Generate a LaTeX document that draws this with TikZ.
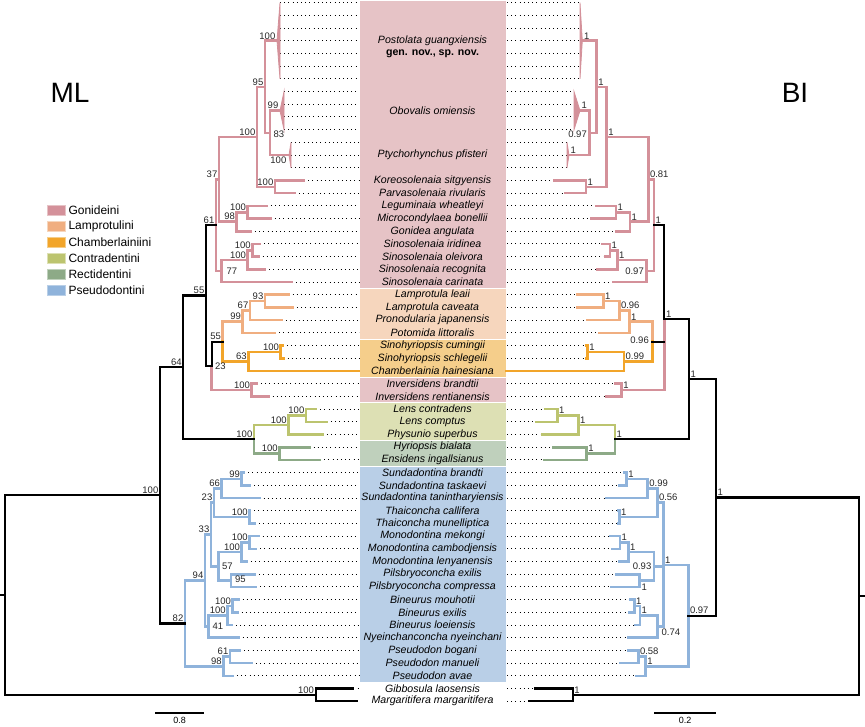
\documentclass[tikz,border=0pt]{standalone}
\usepackage{fontspec}
\setmainfont{Liberation Sans}
\usepackage{xcolor}
\usepackage{tikz}
\usetikzlibrary{positioning}
\definecolor{gonL}{HTML}{D4919A}
\definecolor{lamL}{HTML}{F0AE80}
\definecolor{chaL}{HTML}{F2A52A}
\definecolor{conL}{HTML}{BCC46F}
\definecolor{recL}{HTML}{8DAA87}
\definecolor{pseL}{HTML}{8FB3DB}
\definecolor{gonB}{HTML}{E6C3C6}
\definecolor{lamB}{HTML}{F6D6BD}
\definecolor{chaB}{HTML}{F5CE8B}
\definecolor{conB}{HTML}{DDE0B4}
\definecolor{recB}{HTML}{BFD0BC}
\definecolor{pseB}{HTML}{B9CFE7}
\tikzset{
    branch/.style={line width=2.6pt, line cap=rect, line join=miter},
    gon/.style={branch, draw=gonL},
    lam/.style={branch, draw=lamL},
    cha/.style={branch, draw=chaL},
    con/.style={branch, draw=conL},
    rec/.style={branch, draw=recL},
    pse/.style={branch, draw=pseL},
    blk/.style={branch, draw=black, line width=2.2pt},
    tipdots/.style={line width=1pt, dash pattern=on 1pt off 3.2pt},
    supL/.style={anchor=south east, inner sep=1.5pt, text=black!85, font=\fontsize{9.5}{9.5}\selectfont},
    supR/.style={anchor=south west, inner sep=1.5pt, text=black!85, font=\fontsize{9.5}{9.5}\selectfont},
    taxon/.style={inner sep=0pt, text=black, font=\fontsize{10.6}{12}\selectfont\itshape},
    legtext/.style={anchor=west, inner sep=0pt, font=\fontsize{12}{12}\selectfont},
    method/.style={inner sep=0pt, font=\fontsize{28}{28}\selectfont}
}

\begin{document}
\begin{tikzpicture}[x=1pt, y=-12.7pt, shift={(0pt,-2.7pt)}]
    \useasboundingbox (0,-0.2126) rectangle (865,57.0315);
    % tribe band
    \fill[gonB, draw=white, line width=0.8pt] (359,-0.2126) rectangle (506,22.5);
    \fill[lamB, draw=white, line width=0.8pt] (359,22.5) rectangle (506,26.5);
    \fill[chaB, draw=white, line width=0.8pt] (359,26.5) rectangle (506,29.5);
    \fill[gonB, draw=white, line width=0.8pt] (359,29.5) rectangle (506,31.5);
    \fill[conB, draw=white, line width=0.8pt] (359,31.5) rectangle (506,34.5);
    \fill[recB, draw=white, line width=0.8pt] (359,34.5) rectangle (506,36.5);
    \fill[pseB, draw=white, line width=0.8pt] (359,36.5) rectangle (506,53.5);

    % taxa
    \foreach \r/\t [count=\i] in {3/Postolata guangxiensis, 8.5/Obovalis omiensis, 12/Ptychorhynchus pfisteri,
        14/Koreosolenaia sitgyensis, 15/Parvasolenaia rivularis, 16/Leguminaia wheatleyi, 17/Microcondylaea bonellii,
        18/Gonidea angulata, 19/Sinosolenaia iridinea, 20/Sinosolenaia oleivora, 21/Sinosolenaia recognita,
        22/Sinosolenaia carinata, 23/Lamprotula leaii, 24/Lamprotula caveata, 25/Pronodularia japanensis,
        26/Potomida littoralis, 27/Sinohyriopsis cumingii, 28/Sinohyriopsis schlegelii, 29/Chamberlainia hainesiana,
        30/Inversidens brandtii, 31/Inversidens rentianensis, 32/Lens contradens, 33/Lens comptus,
        34/Physunio superbus, 35/Hyriopsis bialata, 36/Ensidens ingallsianus, 37/Sundadontina brandti,
        38/Sundadontina taskaevi, 39/Sundadontina tanintharyiensis, 40/Thaiconcha callifera,
        41/Thaiconcha munelliptica, 42/Monodontina mekongi, 43/Monodontina cambodjensis,
        44/Monodontina lenyanensis, 45/Pilsbryoconcha exilis, 46/Pilsbryoconcha compressa,
        47/Bineurus mouhotii, 48/Bineurus exilis, 49/Bineurus loeiensis, 50/Nyeinchanconcha nyeinchani,
        51/Pseudodon bogani, 52/Pseudodon manueli, 53/Pseudodon avae, 54/Gibbosula laosensis,
        55/Margaritifera margaritifera}
        \node[taxon] (tx\i) at (432.5,\r) {\t};
    \node[taxon, font=\fontsize{10.6}{12}\selectfont\bfseries] (newgen) at (432.5,4) {gen. nov., sp. nov.};

    % dotted tip lines, ML
    \foreach \x/\r in {280/0,280/1,280/2,280/3,280/4,280/5,280/6,284/7,284/8,284/9,284/10,291/11,291/12,291/13,
        304/14,295/15,266.7/16,270.7/17,250.7/18,260/19,258.3/20,265/21,291.7/22,288.3/23,292.7/24,281.7/25,
        275/26,282.7/27,283.3/28,256.7/30,268.3/31,316/32,326.7/33,322.7/34,309.3/35,320/36,244/37,250/38,
        259.3/39,250/40,255/41,258.3/42,256/43,246.7/44,255/45,256/46,238.3/47,237.3/48,231.7/49,238.3/50,
        240/51,251.7/52,232.7/53,353.3/54,356.7/55}
        \draw[tipdots] (\x,\r) -- (359,\r);
    % dotted tip lines, BI
    \foreach \x/\r in {580/0,580/1,580/2,580/3,580/4,580/5,580/6,574/7,574/8,574/9,574/10,567/11,567/12,567/13,
        554/14,565.7/15,596/16,591.7/17,616/18,602.7/19,605/20,597.3/21,613.3/22,577.3/23,577.3/24,587.3/25,
        599.3/26,586/27,586/28,615/30,606/31,545/32,536/33,542.7/34,553.3/35,544/36,624/37,619.3/38,606.7/39,
        618.3/40,618.3/41,610/42,612.7/43,619.3/44,616/45,611.7/46,630/47,629.3/48,635/49,628.3/50,628.3/51,
        620/52,636/53,535/54,529.3/55}
        \draw[tipdots] (507,\r) -- (\x,\r);

    % ML tree: Gonideini
    \filldraw[gon, fill=gonL, line width=0.8pt] (277,3) -- (280,0) -- (280,6) -- cycle;
    \filldraw[gon, fill=gonL, line width=0.8pt] (280,8.5) -- (284,7) -- (284,10) -- cycle;
    \filldraw[gon, fill=gonL, line width=0.8pt] (289,12) -- (291,11) -- (291,13) -- cycle;
    \draw[gon] (280,8.5) -| (270,12) -- (289,12);
    \draw[gon] (277,3) -| (265,10.25) -- (270,10.25);
    \draw[gon] (304,14) -| (275,15) -- (295,15);
    \draw[gon] (265,6.625) -| (257,14.5) -- (275,14.5);
    \draw[gon] (266.7,16) -| (247.7,17) -- (270.7,17);
    \draw[gon] (247.7,16.5) -| (236.7,18) -- (250.7,18);
    \draw[gon] (257,10.5625) -| (219,17.25) -- (236.7,17.25);
    \draw[gon] (260,19) -| (252.3,20) -- (258.3,20);
    \draw[gon] (252.3,19.5) -| (247.7,21) -- (265,21);
    \draw[gon] (247.7,20.25) -| (221.7,22) -- (291.7,22);
    \draw[gon] (219,13.906) -| (216,21.125) -- (221.7,21.125);
    \draw[gon] (256.7,30) -| (251.7,31) -- (268.3,31);
    \draw[gon] (251.7,30.5) -| (211.7,28.594);
    % ML tree: Lamprotulini + Chamberlainiini
    \draw[lam] (288.3,23) -| (265,24) -- (292.7,24);
    \draw[lam] (265,23.5) -| (250,25) -- (281.7,25);
    \draw[lam] (250,24.25) -| (242.7,26) -- (275,26);
    \draw[lam] (242.7,25.125) -| (222.7,26.6875);
    \draw[cha] (282.7,27) -| (280.7,28) -- (283.3,28);
    \draw[cha] (280.7,27.5) -| (248.3,29) -- (359,29);
    \draw[cha] (248.3,28.25) -| (222.7,26.6875);
    % ML tree: Contradentini + Rectidentini
    \draw[con] (316,32) -| (306,33) -- (326.7,33);
    \draw[con] (306,32.5) -| (288.3,34) -- (322.7,34);
    \draw[con] (288.3,33.25) -| (254,34.375);
    \draw[rec] (309.3,35) -| (279.3,36) -- (320,36);
    \draw[rec] (279.3,35.5) -| (254,34.375);
    % ML tree: Pseudodontini
    \draw[pse] (244,37) -| (241.7,38) -- (250,38);
    \draw[pse] (241.7,37.5) -| (221.7,39) -- (259.3,39);
    \draw[pse] (250,40) -| (249.3,41) -- (255,41);
    \draw[pse] (221.7,38.25) -| (214,40.5) -- (249.3,40.5);
    \draw[pse] (258.3,42) -| (249.3,43) -- (256,43);
    \draw[pse] (249.3,42.5) -| (241.7,44) -- (246.7,44);
    \draw[pse] (255,45) -| (231,46) -- (256,46);
    \draw[pse] (241.7,43.25) -| (218.3,45.5) -- (231,45.5);
    \draw[pse] (214,39.375) -| (211,44.375) -- (218.3,44.375);
    \draw[pse] (238.3,47) -| (232.7,48) -- (237.3,48);
    \draw[pse] (232.7,47.5) -| (227.3,49) -- (231.7,49);
    \draw[pse] (227.3,48.25) -| (208.3,50) -- (238.3,50);
    \draw[pse] (211,41.875) -| (205,49.125) -- (208.3,49.125);
    \draw[pse] (240,51) -| (230,52) -- (251.7,52);
    \draw[pse] (230,51.5) -| (223.3,53) -- (232.7,53);
    \draw[pse] (205,45.5) -| (185,52.25) -- (223.3,52.25);
    % ML tree: backbone
    \draw[blk] (216,17.516) -| (206,28.594) -- (211.7,28.594) -- (211.7,26.6875) -- (222.7,26.6875);
    \draw[blk] (206,23.055) -| (183.3,34.375) -- (254,34.375);
    \draw[blk] (183.3,28.715) -| (160,48.875) -- (185,48.875);
    \draw[blk] (353.3,54) -| (315.7,55) -- (356.7,55);
    \draw[blk] (160,38.795) -| (5,54.5) -- (315.7,54.5);
    \draw[blk] (5,46.65) -- (0,46.65);

    % BI tree: Gonideini
    \filldraw[gon, fill=gonL, line width=0.8pt] (582.3,3) -- (580,0) -- (580,6) -- cycle;
    \filldraw[gon, fill=gonL, line width=0.8pt] (580,8.5) -- (574,7) -- (574,10) -- cycle;
    \filldraw[gon, fill=gonL, line width=0.8pt] (569,12) -- (567,11) -- (567,13) -- cycle;
    \draw[gon] (580,8.5) -| (589.3,12) -- (569,12);
    \draw[gon] (582.3,3) -| (596.7,10.25) -- (589.3,10.25);
    \draw[gon] (554,14) -| (586,15) -- (565.7,15);
    \draw[gon] (596.7,6.625) -| (606.7,14.5) -- (586,14.5);
    \draw[gon] (596,16) -| (616,17) -- (591.7,17);
    \draw[gon] (616,16.5) -| (630,18) -- (616,18);
    \draw[gon] (606.7,10.5625) -| (648.3,17.25) -- (630,17.25);
    \draw[gon] (602.7,19) -| (610,20) -- (605,20);
    \draw[gon] (610,19.5) -| (617.3,21) -- (597.3,21);
    \draw[gon] (617.3,20.25) -| (646.7,22) -- (613.3,22);
    \draw[gon] (648.3,13.906) -| (654,21.125) -- (646.7,21.125);
    \draw[gon] (615,30) -| (621.7,31) -- (606,31);
    \draw[gon] (621.7,30.5) -| (664.3,24.901);
    % BI tree: Lamprotulini + Chamberlainiini
    \draw[lam] (577.3,23) -| (603.3,24) -- (577.3,24);
    \draw[lam] (603.3,23.5) -| (619.3,25) -- (587.3,25);
    \draw[lam] (619.3,24.25) -| (629.3,26) -- (599.3,26);
    \draw[lam] (629.3,25.125) -| (652.3,26.6875);
    \draw[cha] (586,27) -| (587.7,28) -- (586,28);
    \draw[cha] (587.7,27.5) -| (624,29) -- (506,29);
    \draw[cha] (624,28.25) -| (652.3,26.6875);
    % BI tree: Contradentini + Rectidentini
    \draw[con] (545,32) -| (557.3,33) -- (536,33);
    \draw[con] (557.3,32.5) -| (578.3,34) -- (542.7,34);
    \draw[con] (578.3,33.25) -| (615,34.375);
    \draw[rec] (553.3,35) -| (586.7,36) -- (544,36);
    \draw[rec] (586.7,35.5) -| (615,34.375);
    % BI tree: Pseudodontini
    \draw[pse] (624,37) -| (626.7,38) -- (619.3,38);
    \draw[pse] (626.7,37.5) -| (647.7,39) -- (606.7,39);
    \draw[pse] (618.3,40) -| (619.3,41) -- (618.3,41);
    \draw[pse] (647.7,38.25) -| (657.3,40.5) -- (619.3,40.5);
    \draw[pse] (610,42) -| (620,43) -- (612.7,43);
    \draw[pse] (620,42.5) -| (628.3,44) -- (619.3,44);
    \draw[pse] (616,45) -| (639.3,46) -- (611.7,46);
    \draw[pse] (628.3,43.25) -| (654,45.5) -- (639.3,45.5);
    \draw[pse] (630,47) -| (634.3,48) -- (629.3,48);
    \draw[pse] (634.3,47.5) -| (640,49) -- (635,49);
    \draw[pse] (640,48.25) -| (657.3,50) -- (628.3,50);
    \draw[pse] (657.3,39.375) -| (663.3,49.125) -- (657.3,49.125);
    \draw[pse] (654,44.375) -- (663.3,44.375);
    \draw[pse] (628.3,51) -| (638.3,52) -- (620,52);
    \draw[pse] (638.3,51.5) -| (645.7,53) -- (636,53);
    \draw[pse] (663.3,44.29) -| (688.3,52.25) -- (645.7,52.25);
    % BI tree: backbone
    \draw[blk] (654,17.516) -| (664.3,24.901) -- (689,24.901);
    \draw[blk] (652.3,26.6875) -- (664.3,26.6875);
    \draw[blk] (664.3,24.901) -| (689,34.375) -- (615,34.375);
    \draw[blk] (689,29.638) -| (716,48.27) -- (688.3,48.27);
    \draw[blk] (535,54) -| (572.7,55) -- (529.3,55);
    \draw[blk] (716,38.954) -| (859.3,54.5) -- (572.7,54.5);
    \draw[blk] (859.3,46.727) -- (865,46.727);

    % ML supports
    \foreach \x/\r/\t [count=\i] in {277/3/100, 265/6.625/95, 280/8.5/99, 257/10.5625/100, 219/13.906/37,
        275/14.5/100, 247.7/16.5/100, 236.7/17.25/98, 216/17.516/61, 252.3/19.5/100, 247.7/20.25/100,
        265/23.5/93, 250/24.25/67, 242.7/25.125/99, 222.7/26.6875/55, 280.7/27.5/100, 248.3/28.25/63,
        206/23.055/55, 251.7/30.5/100, 183.3/28.715/64, 306/32.5/100, 288.3/33.25/100, 254/34.375/100,
        279.3/35.5/100, 160/38.795/100, 241.7/37.5/99, 221.7/38.25/66, 214/39.375/23, 249.3/40.5/100,
        211/41.875/33, 249.3/42.5/100, 241.7/43.25/100, 205/45.5/94, 232.7/47.5/100, 227.3/48.25/100,
        185/48.875/82, 230/51.5/61, 223.3/52.25/98, 315.7/54.5/100}
        \node[supL] (ml\i) at (\x,\r) {\t};
    \foreach \x/\r/\t [count=\i] in {272/10.37/83, 225/21.125/77, 213.5/28.594/23, 220.5/44.375/57,
        233.5/45.4/95, 211/49.125/41}
        \node[supL, anchor=west] (mlw\i) at (\x,\r) {\t};
    \node[supL, anchor=north east] (mlptycho) at (288,12) {100};

    % BI supports
    \foreach \x/\r/\t [count=\i] in {582.3/3/1, 596.7/6.625/1, 580/8.5/1, 569/12/1, 606.7/10.5625/1,
        586/14.5/1, 648.3/13.906/0.81, 616/16.5/1, 630/17.25/1, 654/17.516/1, 610/19.5/1, 617.3/20.25/1,
        603.3/23.5/1, 619.3/24.25/0.96, 629.3/25.125/1, 587.7/27.5/1, 624/28.25/0.99, 621.7/30.5/1,
        664.3/24.901/1, 557.3/32.5/1, 578.3/33.25/1, 615/34.375/1, 586.7/35.5/1, 689/29.638/1,
        716/38.954/1, 626.7/37.5/1, 647.7/38.25/0.99, 657.3/39.375/0.56, 619.3/40.5/1, 620/42.5/1,
        628.3/43.25/1, 663.3/44.29/1, 634.3/47.5/1, 640/48.25/1, 638.3/51.5/0.58, 645.7/52.25/1,
        688.3/48.27/0.97, 572.7/54.5/1}
        \node[supR] (bi\i) at (\x,\r) {\t};
    \foreach \x/\r/\t [count=\i] in {588.5/10.39/0.97, 645.5/21.125/0.97, 650.5/26.6/0.96, 653/44.375/0.93}
        \node[supR, anchor=east] (bie\i) at (\x,\r) {\t};
    \node[supR, anchor=north west] (bipils) at (640,45.6) {1};
    \node[supR, anchor=north west] (bi074) at (660,49.2) {0.74};

    % method titles
    \node[method] (ml) at (70,7.07) {ML};
    \node[method] (bi) at (795,7.11) {BI};

    % legend
    \foreach \cl/\cb/\t [count=\i from 0] in {gonL/gonB/Gonideini, lamL/lamB/Lamprotulini,
        chaL/chaB/Chamberlainiini, conL/conB/Contradentini, recL/recB/Rectidentini, pseL/pseB/Pseudodontini}
    {
        \filldraw[fill=\cl, draw=\cb, line width=0.6pt] (47.3,16.346+1.2598*\i-0.366) rectangle (65.3,16.346+1.2598*\i+0.366);
        \node[legtext] (leg\i) at (68.3,16.346+1.2598*\i) {\t};
    }

    % scale bars
    \draw[line width=1.8pt] (155,55.906) -- (204.3,55.906) node[midway, below=4pt, inner sep=0pt, font=\fontsize{9}{9}\selectfont] (mlscale) {0.8};
    \draw[line width=1.8pt] (654,55.906) -- (716,55.906) node[midway, below=4pt, inner sep=0pt, font=\fontsize{9}{9}\selectfont] (biscale) {0.2};
\end{tikzpicture}
\end{document}
